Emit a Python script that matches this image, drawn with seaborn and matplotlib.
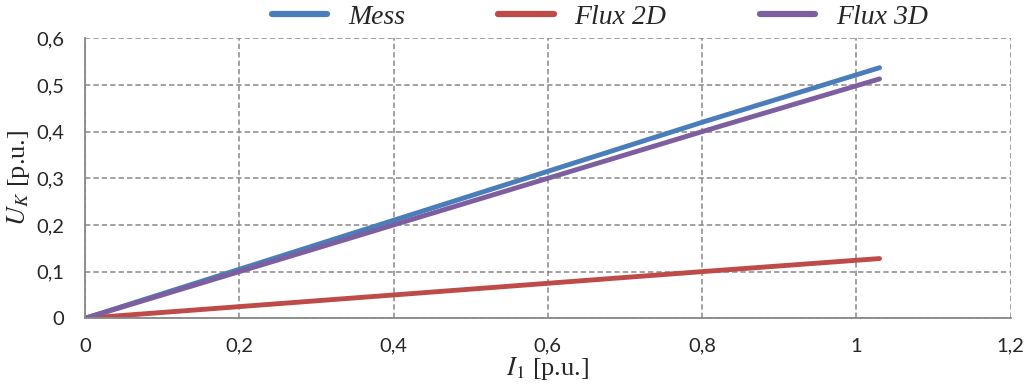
import matplotlib
matplotlib.use("Agg")
import matplotlib.pyplot as plt
import seaborn as sns
import pandas as pd
from matplotlib.lines import Line2D

# Data
current = [0.0, 0.2, 0.4, 0.6, 0.8, 1.03]
mess = [0.0, 0.105, 0.21, 0.315, 0.42, 0.537]
flux2d = [0.0, 0.025, 0.05, 0.075, 0.1, 0.128]
flux3d = [0.0, 0.10, 0.20, 0.30, 0.40, 0.513]
series_names = ["Mess", "Flux 2D", "Flux 3D"]
colors = ["#4a7ebb", "#be4b48", "#7d5fa0"]
xticks = [0, 0.2, 0.4, 0.6, 0.8, 1.0, 1.2]
yticks = [0, 0.1, 0.2, 0.3, 0.4, 0.5, 0.6]

df = pd.DataFrame({
    "I": current * 3,
    "U": mess + flux2d + flux3d,
    "series": [series_names[0]] * len(current) + [series_names[1]] * len(current) + [series_names[2]] * len(current),
})

sns.set_style("white")
plt.rcParams["mathtext.fontset"] = "stix"

fig = plt.figure(figsize=(10.27, 3.86), dpi=100)
ax = fig.add_axes([0.0828, 0.1754, 0.9013, 0.7254])

sns.lineplot(data=df, x="I", y="U", hue="series", palette=colors,
             hue_order=series_names, linewidth=3.5, ax=ax, legend=False,
             solid_capstyle="round")

ax.set_xlim(0, 1.2)
ax.set_ylim(0, 0.6)
ax.set_xticks(xticks)
ax.set_yticks(yticks)
fmt = lambda v: "0" if v == 0 else ("%g" % v).replace(".", ",")
ax.set_xticklabels([fmt(v) for v in xticks], fontsize=14.5, family="Lato")
ax.set_yticklabels([fmt(v) for v in yticks], fontsize=14.5, family="Lato")
ax.tick_params(axis="x", length=0, pad=14)
ax.tick_params(axis="y", length=0, pad=15)

ax.grid(True, color="#888888", linestyle=(0, (3.5, 2)), linewidth=1.1)
ax.set_axisbelow(True)
for side in ["top", "right"]:
    ax.spines[side].set_visible(False)
for side in ["left", "bottom"]:
    ax.spines[side].set_color("#888888")
    ax.spines[side].set_linewidth(1.3)

ax.set_xlabel(r"$I_1$ [p.u.]", fontsize=19, family="Liberation Serif", labelpad=0)
ax.set_ylabel(r"$U_K$ [p.u.]", fontsize=19, family="Liberation Serif", labelpad=3)

handles = [Line2D([0], [0], color=c, linewidth=4.5, solid_capstyle="round") for c in colors]
fig.legend(handles, series_names, loc="center", bbox_to_anchor=(0.584, 0.955), ncol=3,
           frameon=False, handlelength=2.0, handletextpad=0.75, columnspacing=3.35,
           prop={"family": "Liberation Serif", "style": "italic", "size": 20})

fig.savefig("out.png", dpi=100)
